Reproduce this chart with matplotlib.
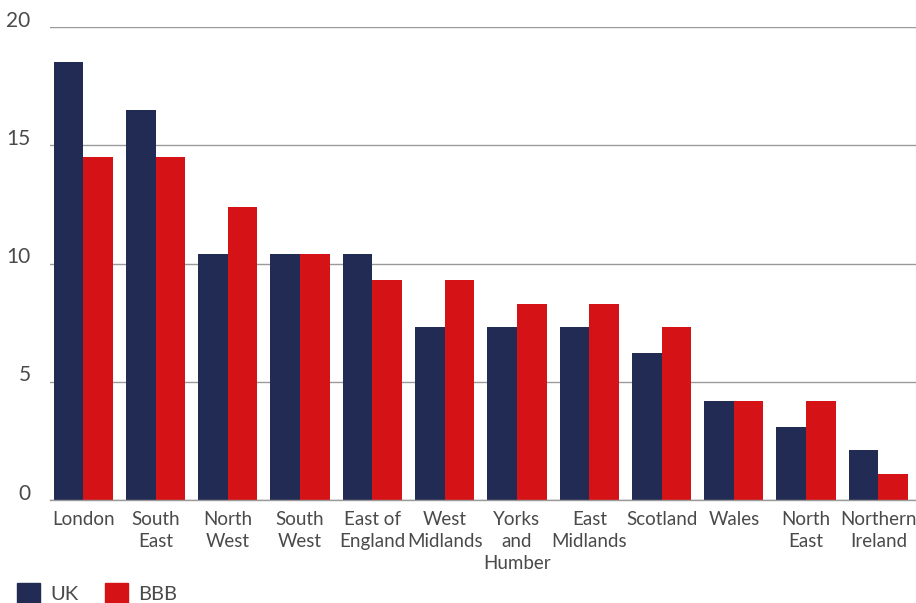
import numpy as np
import matplotlib.pyplot as plt
import matplotlib.transforms as mtransforms
from matplotlib.patches import Patch

plt.rcParams['font.family'] = ['Lato', 'DejaVu Sans']

# Data
regions = ['London', 'South\nEast', 'North\nWest', 'South\nWest', 'East of\nEngland',
           'West\nMidlands', 'Yorks\nand\nHumber', 'East\nMidlands', 'Scotland',
           'Wales', 'North\nEast', 'Northern\nIreland']
uk = [18.5, 16.5, 10.4, 10.4, 10.4, 7.3, 7.3, 7.3, 6.2, 4.2, 3.1, 2.1]
bbb = [14.5, 14.5, 12.4, 10.4, 9.3, 9.3, 8.3, 8.3, 7.3, 4.2, 4.2, 1.1]
yticks = [0, 5, 10, 15, 20]

navy = '#222B53'
red = '#D51317'
text_col = '#4a4a4a'

fig = plt.figure(figsize=(9.16, 6.03), dpi=100)
ax = fig.add_axes([50 / 916, 103 / 603, 866 / 916, 473 / 603])

x = np.arange(len(regions))
w = 0.41
ax.bar(x - w / 2, uk, width=w, color=navy, zorder=2)
ax.bar(x + w / 2, bbb, width=w, color=red, zorder=2)

ax.set_xlim(-0.46, 11.52)
ax.set_ylim(0, 20)
ax.set_yticks(yticks)
ax.set_yticklabels([str(t) for t in yticks])
ax.yaxis.grid(True, color='#9a9a9a', linewidth=1, zorder=0)
ax.set_axisbelow(True)

for s in ['top', 'right', 'left']:
    ax.spines[s].set_visible(False)
ax.spines['bottom'].set_color('#9a9a9a')
ax.spines['bottom'].set_linewidth(1)

ax.set_xticks(x)
ax.set_xticklabels(regions, linespacing=1.35)
ax.tick_params(axis='x', length=0, pad=8, labelsize=13.5, labelcolor=text_col)
ax.tick_params(axis='y', length=0, pad=14, labelsize=15, labelcolor=text_col)

offset = mtransforms.ScaledTranslation(0, 6 / 72, fig.dpi_scale_trans)
for lbl in ax.get_yticklabels():
    lbl.set_transform(lbl.get_transform() + offset)

handles = [Patch(color=navy, label='UK'), Patch(color=red, label='BBB')]
fig.legend(handles=handles, loc='lower left', bbox_to_anchor=(17 / 916, 0.0), ncol=2,
           frameon=False, fontsize=14.5, labelcolor=text_col, handlelength=1.15,
           handleheight=1.1, handletextpad=0.5, columnspacing=1.3,
           borderpad=0, borderaxespad=0)

fig.savefig('out.png', dpi=100)
